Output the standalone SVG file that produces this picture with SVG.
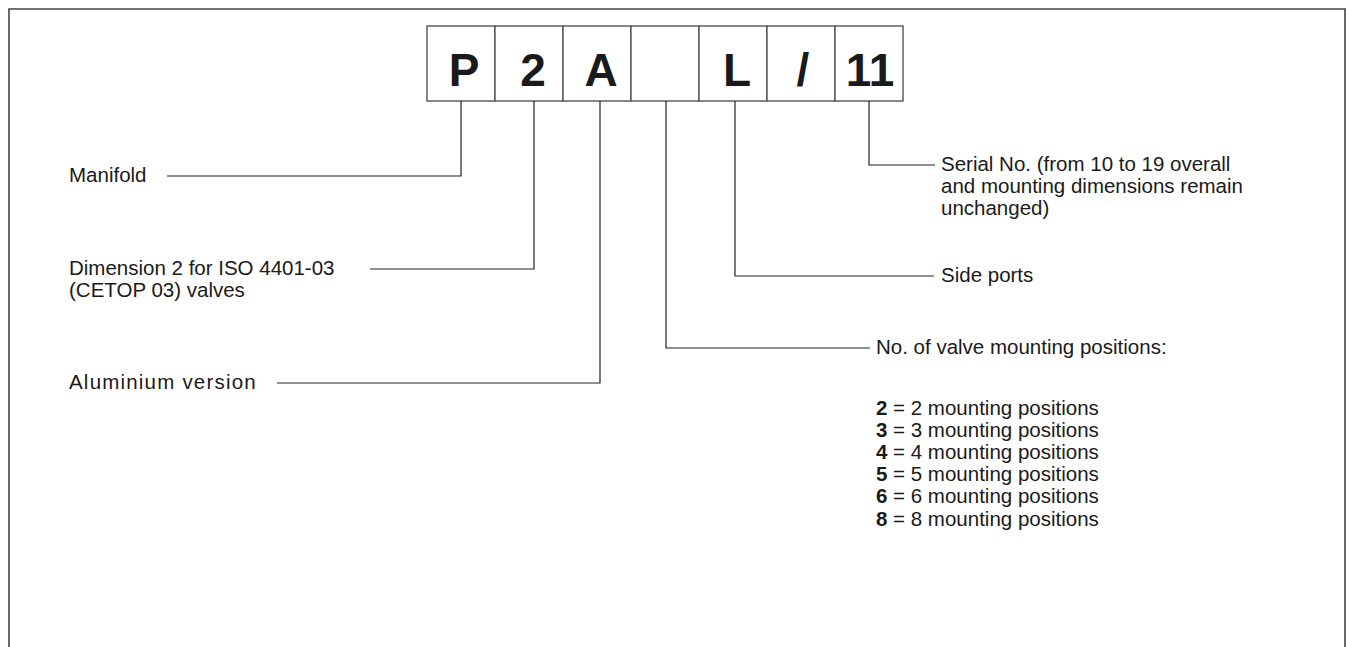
<svg xmlns="http://www.w3.org/2000/svg" width="1348" height="647" viewBox="0 0 1348 647">
<style>
.frame{fill:none;stroke:#444;stroke-width:1.6}
.box{fill:#fff;stroke:#555;stroke-width:1.4}
.code{font-family:"Liberation Sans",Arial,sans-serif;font-weight:bold;font-size:46px;fill:#1a1a1a;text-anchor:middle}
.lbl{font-family:"Liberation Sans",Arial,sans-serif;font-size:20.5px;fill:#1a1a1a}
.lead{fill:none;stroke:#222;stroke-width:1.2}
</style>
<rect width="1348" height="647" fill="#fff"/>
<path class="frame" d="M9,647 V9 H1345 V647"/>
<g id="code">
<g id="box-P"><rect class="box" x="427" y="26" width="68" height="75"/><text class="code" x="464" y="86">P</text></g>
<g id="box-2"><rect class="box" x="495" y="26" width="68" height="75"/><text class="code" x="533" y="86">2</text></g>
<g id="box-A"><rect class="box" x="563" y="26" width="68" height="75"/><text class="code" x="601" y="86">A</text></g>
<g id="box-blank"><rect class="box" x="631" y="26" width="68" height="75"/></g>
<g id="box-L"><rect class="box" x="699" y="26" width="68" height="75"/><text class="code" x="737" y="86">L</text></g>
<g id="box-slash"><rect class="box" x="767" y="26" width="68" height="75"/><text class="code" x="803" y="86">/</text></g>
<g id="box-11"><rect class="box" x="835" y="26" width="68" height="75"/><text class="code" x="870" y="86">11</text></g>
</g>
<g id="connectors">
<polyline class="lead" points="461,101 461,176 167,176"/>
<polyline class="lead" points="534,101 534,269 370,269"/>
<polyline class="lead" points="600,101 600,383 277,383"/>
<polyline class="lead" points="666,101 666,348 870,348"/>
<polyline class="lead" points="735,101 735,276 934,276"/>
<polyline class="lead" points="869,101 869,165 935,165"/>
</g>
<g id="label-manifold"><text class="lbl" x="69" y="182">Manifold</text></g>
<g id="label-dimension"><text class="lbl" x="69" y="275">Dimension 2 for ISO 4401-03</text><text class="lbl" x="69" y="297">(CETOP 03) valves</text></g>
<g id="label-aluminium"><text class="lbl" x="69" y="389" letter-spacing="1.2">Aluminium version</text></g>
<g id="label-serial"><text class="lbl" x="941" y="171">Serial No. (from 10 to 19 overall</text><text class="lbl" x="941" y="193">and mounting dimensions remain</text><text class="lbl" x="941" y="215">unchanged)</text></g>
<g id="label-side"><text class="lbl" x="941" y="282">Side ports</text></g>
<g id="label-positions">
<text class="lbl" x="876" y="354">No. of valve mounting positions:</text>
<text class="lbl" x="876" y="415"><tspan font-weight="bold">2</tspan> = 2 mounting positions</text>
<text class="lbl" x="876" y="437"><tspan font-weight="bold">3</tspan> = 3 mounting positions</text>
<text class="lbl" x="876" y="459"><tspan font-weight="bold">4</tspan> = 4 mounting positions</text>
<text class="lbl" x="876" y="481"><tspan font-weight="bold">5</tspan> = 5 mounting positions</text>
<text class="lbl" x="876" y="503"><tspan font-weight="bold">6</tspan> = 6 mounting positions</text>
<text class="lbl" x="876" y="526"><tspan font-weight="bold">8</tspan> = 8 mounting positions</text>
</g>
</svg>
